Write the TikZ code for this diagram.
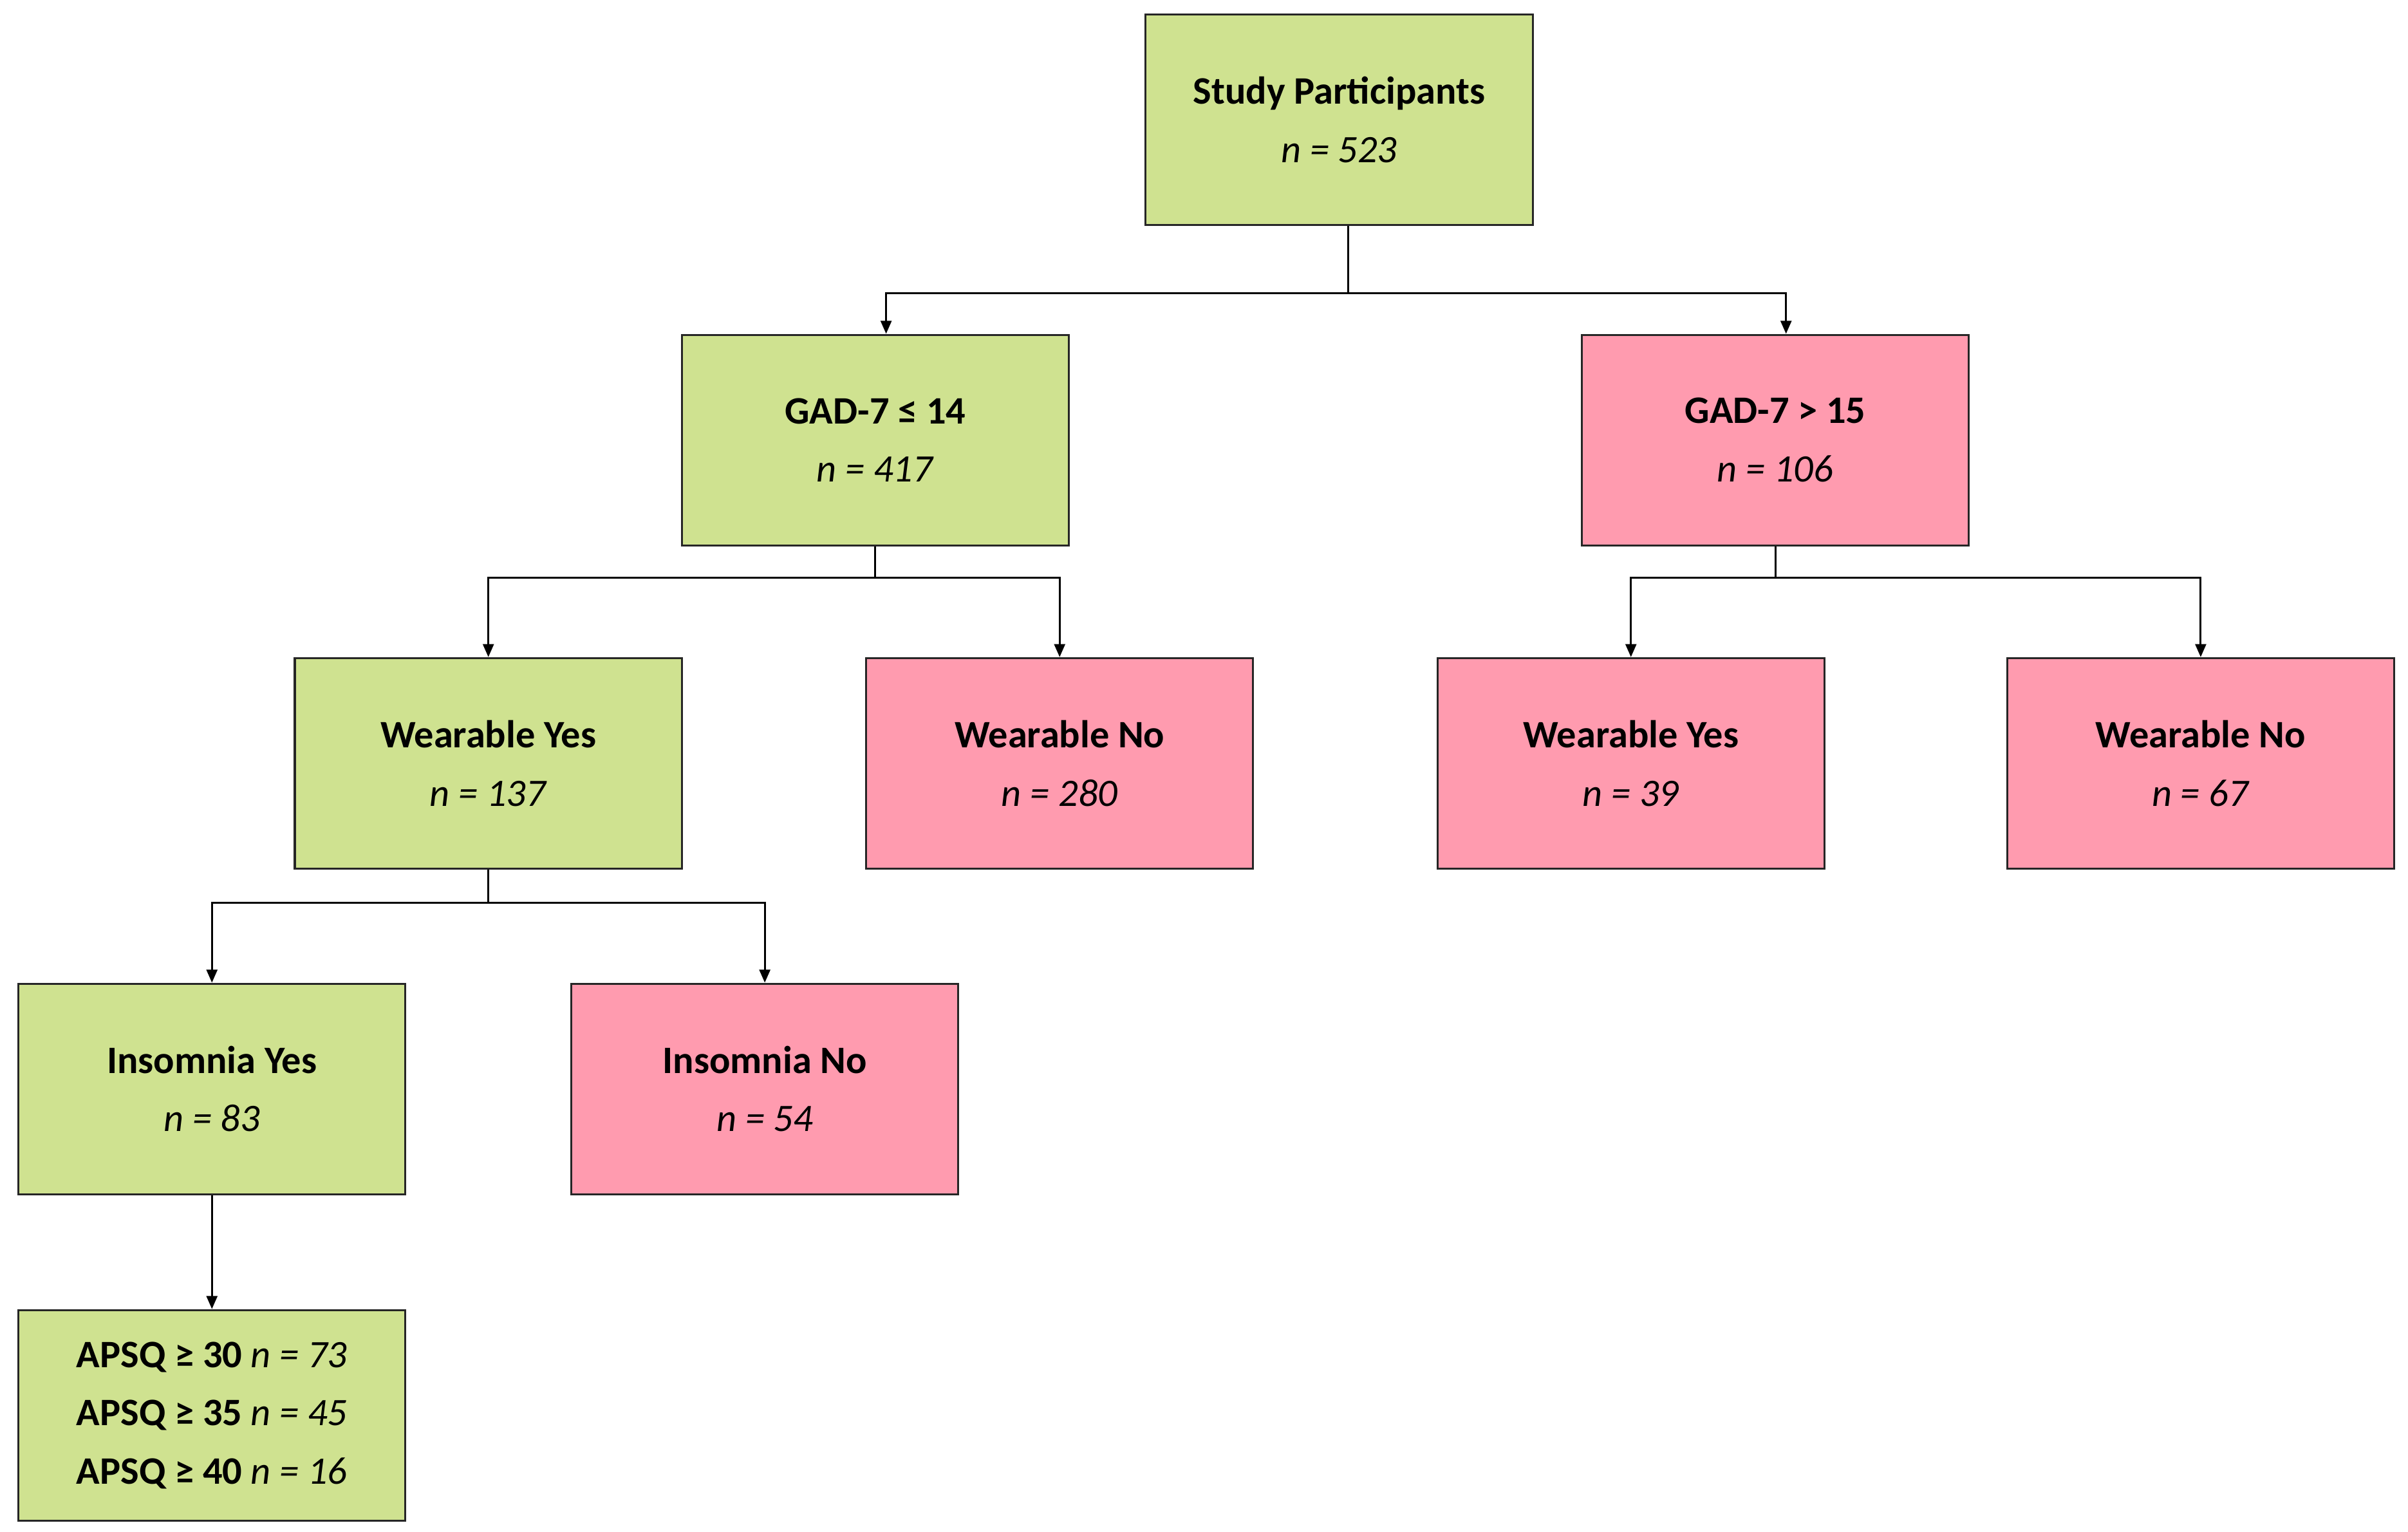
\documentclass[tikz,border=0pt]{standalone}
\usepackage{fontspec}
\setmainfont{Carlito}
\usetikzlibrary{arrows.meta}
\definecolor{gr}{HTML}{CFE290}
\definecolor{pk}{HTML}{FF9BAF}
\begin{document}
\begin{tikzpicture}[x=0.025cm,y=-0.025cm,
 box/.style={draw=black!85,line width=0.9pt,minimum width=6.3cm,minimum height=3.425cm,align=center,inner sep=0pt,font=\fontsize{18}{27}\selectfont},
 g/.style={box,fill=gr}, p/.style={box,fill=pk},
 ar/.style={draw,line width=0.9pt,-{Triangle[length=6pt,width=5pt]}},
 ln/.style={draw,line width=0.9pt}]
\useasboundingbox (0,0) rectangle (1568,997.5);
\node[g] (sp) at (872,78) {\textbf{Study Participants}\\\textit{n = 523}};
\node[g] (ga) at (570,286.5) {\textbf{GAD-7 ≤ 14}\\\textit{n = 417}};
\node[p] (gb) at (1156,286.5) {\textbf{GAD-7 > 15}\\\textit{n = 106}};
\node[g] (wy1) at (318,497) {\textbf{Wearable Yes}\\\textit{n = 137}};
\node[p] (wn1) at (690,497) {\textbf{Wearable No}\\\textit{n = 280}};
\node[p] (wy2) at (1062,497) {\textbf{Wearable Yes}\\\textit{n = 39}};
\node[p] (wn2) at (1433,497) {\textbf{Wearable No}\\\textit{n = 67}};
\node[g] (iy) at (138,709) {\textbf{Insomnia Yes}\\\textit{n = 83}};
\node[p] (in) at (498,709) {\textbf{Insomnia No}\\\textit{n = 54}};
\node[g] (ap) at (138,921.5) {\textbf{APSQ ≥ 30} \textit{n = 73}\\\textbf{APSQ ≥ 35} \textit{n = 45}\\\textbf{APSQ ≥ 40} \textit{n = 16}};
\coordinate (b1) at (878,191);
\coordinate (b2) at (570,376);
\coordinate (b3) at (1156,376);
\coordinate (b4) at (318,588);
\draw[ln] (b1 |- sp.south) -- (b1);
\draw[ar] (b1) -| (577,0 |- ga.north);
\draw[ar] (b1) -| (1163,0 |- gb.north);
\draw[ln] (ga.south) -- (b2);
\draw[ar] (b2) -| (wy1.north);
\draw[ar] (b2) -| (wn1.north);
\draw[ln] (gb.south) -- (b3);
\draw[ar] (b3) -| (wy2.north);
\draw[ar] (b3) -| (wn2.north);
\draw[ln] (wy1.south) -- (b4);
\draw[ar] (b4) -| (iy.north);
\draw[ar] (b4) -| (in.north);
\draw[ar] (iy.south) -- (ap.north);
\end{tikzpicture}
\end{document}
